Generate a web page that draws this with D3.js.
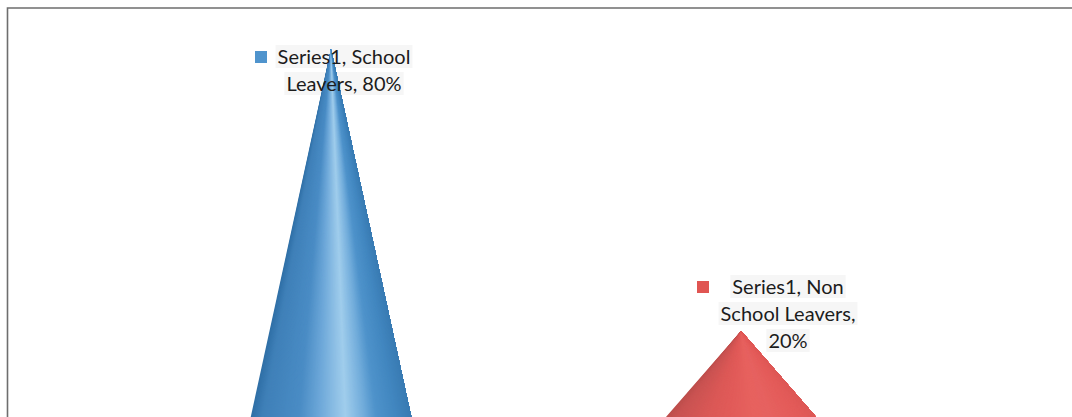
<!DOCTYPE html>
<html><head><meta charset="utf-8">
<script src="https://cdnjs.cloudflare.com/ajax/libs/d3/7.8.5/d3.min.js"></script>
<style>html,body{margin:0;padding:0;background:#fff;overflow:hidden}svg{display:block}</style>
</head><body><svg id="c" width="1072" height="417"></svg>
<script>
const categories = ["School Leavers", "Non School Leavers"];
const seriesName = "Series1";
const values = [0.80, 0.20];
const labelLines = [["Series1, School", "Leavers, 80%"], ["Series1, Non", "School Leavers,", "20%"]];
const coneColors = [
  ["#2f6fa6", "#3f80b8", "#4a8cc5", "#6ba6d8", "#a0cdec", "#74aedc", "#4f93cb", "#4287c0", "#397bb3"],
  ["#bc4e4c", "#c95352", "#dc5957", "#e15b59", "#e7625f", "#e66260", "#e55f5d", "#e35b59", "#dd5856"]
];
const markerColors = ["#4f94cd", "#e05552"];

const W = 1072, H = 417;
const svg = d3.select("#c");
const y = d3.scaleLinear().domain([0, 1]).range([425, -45]);
const x = d3.scaleBand().domain(categories).range([126, 946]).paddingInner(0.6).paddingOuter(0.3);
const shadePos = d3.scaleLinear().domain([0, 0.07, 0.3, 0.42, 0.59, 0.7, 0.78, 0.9, 1]);
const nSlices = 160;

svg.append("defs").append("clipPath").attr("id", "plot").append("rect")
  .attr("x", 0).attr("y", 0).attr("width", W).attr("height", H);

// frame
svg.append("path").attr("d", `M7.5,${H}V8H${W}`).attr("fill", "none").attr("stroke", "#6e6e6e").attr("stroke-width", 1.6);

const rows = categories.map((c, i) => ({c, v: values[i], i, lines: labelLines[i]}));
const labelPos = [{cx: 344, top: 57, mx: 261}, {cx: 788, top: 287, mx: 703}];
const lineH = 27;
const fontCss = "Lato, 'Open Sans', sans-serif";

// label text and its pale background, which sits under the cone
rows.forEach(r => {
  const p = labelPos[r.i];
  r.lines.forEach((t, k) => {
    svg.append("text").attr("class", "probe")
      .attr("x", p.cx).attr("y", p.top + k * lineH).attr("text-anchor", "middle").attr("dy", "0.35em")
      .attr("font-family", fontCss).attr("font-size", 20).attr("fill", "#1c1c1c").text(t);
  });
});
const texts = svg.selectAll("text.probe").nodes();
texts.forEach(n => {
  const b = n.getBBox();
  svg.insert("rect", "text").attr("x", b.x - 2).attr("y", b.y + 1).attr("width", b.width + 4).attr("height", b.height - 1).attr("fill", "#f6f6f6");
});

// cones: each slice runs from its own left edge to the right corner, painted left to right
const g = svg.append("g").attr("clip-path", "url(#plot)");
rows.forEach(r => {
  const color = d3.scaleLinear().domain(shadePos.domain()).range(coneColors[r.i]).interpolate(d3.interpolateRgb);
  const cx = x(r.c) + x.bandwidth() / 2, hw = x.bandwidth() / 2, y0 = y(0), yt = y(r.v);
  const line = d3.line();
  const cone = g.append("g");
  cone.selectAll("path").data(d3.range(nSlices)).join("path")
    .attr("d", k => line([[cx, yt], [cx - hw + 2 * hw * k / nSlices, y0], [cx + hw, y0]]) + "Z")
    .attr("fill", k => color((k + 0.5) / nSlices));
});

// text on top
texts.forEach(n => svg.node().appendChild(n));

// markers
rows.forEach(r => {
  const p = labelPos[r.i];
  svg.append("rect").attr("x", p.mx - 6).attr("y", p.top - 6).attr("width", 12).attr("height", 12).attr("fill", markerColors[r.i]);
});
</script></body></html>
